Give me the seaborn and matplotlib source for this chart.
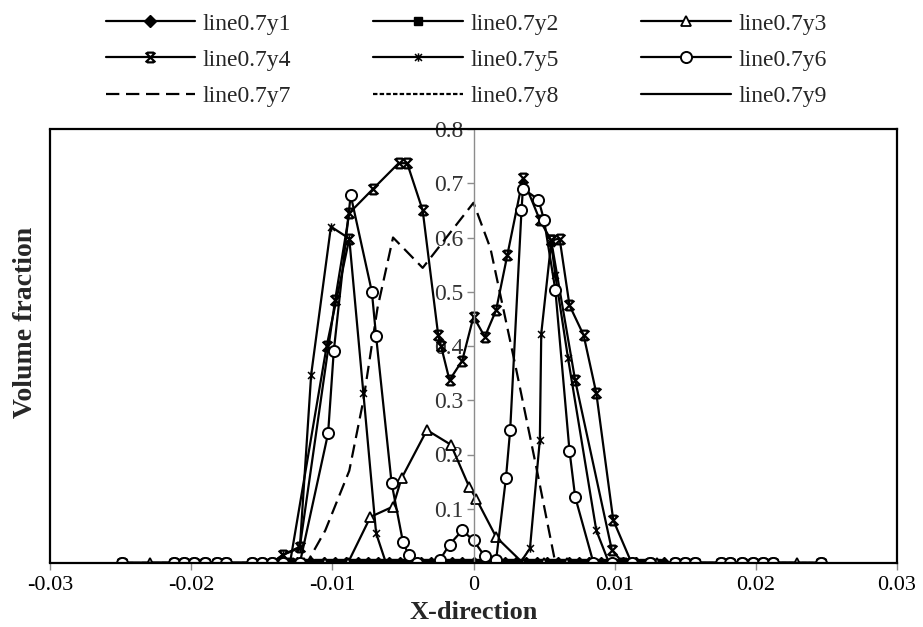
import numpy as np
import pandas as pd
import matplotlib
matplotlib.use("Agg")
import matplotlib.pyplot as plt
from matplotlib.path import Path
from matplotlib.lines import Line2D
import seaborn as sns

# ---- data: volume fraction along the line at 0.7, one list pair per probe ----
far_left_x = [-0.0249, -0.0212, -0.0205, -0.0198, -0.0190, -0.0182, -0.0175, -0.0157, -0.0150, -0.0143]
far_left_y = [0, 0, 0, 0, 0, 0, 0, 0, 0, 0]
far_right_x = [0.0143, 0.0150, 0.0157, 0.0175, 0.0182, 0.0190, 0.0198, 0.0205, 0.0212, 0.0246]
far_right_y = [0, 0, 0, 0, 0, 0, 0, 0, 0, 0]

y1_x = [-0.0135, -0.0125, -0.0115, -0.0106, -0.0098, -0.0090, -0.0082, -0.0075, -0.0068, -0.0060,
        -0.0052, -0.0045, -0.0037, -0.0030, -0.0022, -0.0015, -0.0008, 0.0, 0.0008, 0.0015,
        0.0022, 0.0030, 0.0037, 0.0045, 0.0052, 0.0060, 0.0068, 0.0075, 0.0082, 0.0090,
        0.0098, 0.0106, 0.0115, 0.0125, 0.0135]
y1_v = [0, 0, 0, 0, 0, 0, 0, 0, 0, 0, 0, 0, 0, 0, 0, 0, 0, 0, 0, 0,
        0, 0, 0, 0, 0, 0, 0, 0, 0, 0, 0, 0, 0, 0, 0]

y2_x = [-0.0130, -0.0120, -0.0110, -0.0102, -0.0094, -0.0086, -0.0078, -0.0071, -0.0064, -0.0056,
        -0.0049, -0.0041, -0.0034, -0.0026, -0.0019, -0.0011, -0.0004, 0.0004, 0.0011, 0.0019,
        0.0026, 0.0034, 0.0041, 0.0049, 0.0056, 0.0064, 0.0071, 0.0078, 0.0086, 0.0094,
        0.0102, 0.0110, 0.0120, 0.0130]
y2_v = [0, 0, 0, 0, 0, 0, 0, 0, 0, 0, 0, 0, 0, 0, 0, 0, 0, 0, 0, 0,
        0, 0, 0, 0, 0, 0, 0, 0, 0, 0, 0, 0, 0, 0]

y3_x = [-0.0229, -0.0135, -0.0120, -0.0105, -0.0089, -0.0073, -0.0057, -0.0051, -0.0033, -0.0016,
        -0.0003, 0.0002, 0.0016, 0.0035, 0.0050, 0.0066, 0.0082, 0.0098, 0.0115, 0.0130, 0.0229]
y3_v = [0, 0, 0, 0, 0, 0.085, 0.104, 0.156, 0.245, 0.218,
        0.140, 0.118, 0.048, 0.0, 0, 0, 0, 0, 0, 0, 0]

y4_x = [-0.0135, -0.0123, -0.0098, -0.0088, -0.0071, -0.0053, -0.0047, -0.0036, -0.0025, -0.0023,
        -0.0017, -0.0008, 0.0, 0.0008, 0.0016, 0.0024, 0.0035, 0.0047, 0.0055, 0.0061,
        0.0068, 0.0078, 0.0087, 0.0099, 0.0112, 0.0125]
y4_v = [0.015, 0.03, 0.485, 0.645, 0.69, 0.737, 0.737, 0.65, 0.42, 0.40,
        0.337, 0.373, 0.454, 0.417, 0.466, 0.568, 0.709, 0.632, 0.595, 0.598,
        0.475, 0.42, 0.313, 0.079, 0.0, 0.0]
# flank branches of the same probe
y4b_x = [-0.0130, -0.0104, -0.0088]
y4b_v = [0.0, 0.40, 0.598]
y4c_x = [0.0055, 0.0072, 0.0098, 0.0106]
y4c_v = [0.595, 0.337, 0.024, 0.0]

y5_x = [-0.0135, -0.0123, -0.0115, -0.0101, -0.0088, -0.0078, -0.0069, -0.0062, -0.0050, -0.0038,
        -0.0025, -0.0012, 0.0, 0.0012, 0.0025, 0.0033, 0.0040, 0.0047, 0.0048, 0.0055,
        0.0058, 0.0067, 0.0087, 0.0096, 0.0110, 0.0125]
y5_v = [0.015, 0.028, 0.347, 0.62, 0.598, 0.313, 0.055, 0.0, 0, 0,
        0, 0, 0, 0, 0, 0.0, 0.027, 0.227, 0.423, 0.59,
        0.53, 0.377, 0.06, 0.0, 0, 0]

y6_x = [-0.0135, -0.0123, -0.0103, -0.0099, -0.0087, -0.0072, -0.0069, -0.0058, -0.0050, -0.0046,
        -0.0040, -0.0024, -0.0017, -0.0008, 0.0, 0.0008, 0.0016, 0.0023, 0.0026, 0.0034,
        0.0035, 0.0046, 0.0050, 0.0058, 0.0068, 0.0072, 0.0085, 0.0098, 0.0112, 0.0125]
y6_v = [0, 0, 0.239, 0.39, 0.678, 0.50, 0.418, 0.147, 0.039, 0.015,
        0.0, 0.005, 0.034, 0.06, 0.042, 0.012, 0.005, 0.157, 0.246, 0.65,
        0.69, 0.67, 0.632, 0.503, 0.207, 0.122, 0.0, 0, 0, 0]

y7_x = [-0.0135, -0.0118, -0.0105, -0.0088, -0.0078, -0.0068, -0.0057, -0.0036, 0.0, 0.0012,
        0.0030, 0.0045, 0.0058, 0.0075, 0.0095, 0.0115, 0.0130]
y7_v = [0, 0, 0.06, 0.17, 0.30, 0.47, 0.60, 0.544, 0.664, 0.58,
        0.36, 0.17, 0.0, 0, 0, 0, 0]

y8_x = [-0.0135, 0.0, 0.0135]
y8_v = [0, 0, 0]
y9_x = [-0.0135, 0.0, 0.0135]
y9_v = [0, 0, 0]

x_ticks = [-0.03, -0.02, -0.01, 0.0, 0.01, 0.02, 0.03]
x_tick_labels = ["-0.03", "-0.02", "-0.01", "0", "0.01", "0.02", "0.03"]
y_ticks = [0.1, 0.2, 0.3, 0.4, 0.5, 0.6, 0.7, 0.8]
y_tick_labels = ["0.1", "0.2", "0.3", "0.4", "0.5", "0.6", "0.7", "0.8"]

# ---- marker shapes ----
cross_bar = Path([(-1, -1), (1, 1), (-1, 1), (1, -1), (-0.7, 1), (0.7, 1), (-0.7, -1), (0.7, -1)],
                 [Path.MOVETO, Path.LINETO] * 4)
cross_star = Path([(-1, -1), (1, 1), (-1, 1), (1, -1), (0, -1.2), (0, 1.2)],
                  [Path.MOVETO, Path.LINETO] * 3)

sns.set_style("white")
plt.rcParams["font.family"] = ["Liberation Serif", "DejaVu Serif"]

fig = plt.figure(figsize=(9.23, 6.27), dpi=100)
ax = fig.add_axes([50 / 923, 1 - 563 / 627, 847 / 923, 434 / 627])

LW = 1.6
black = "black"


def draw(xs, ys, label=None, **style):
    full_x = far_left_x + xs + far_right_x
    full_y = far_left_y + ys + far_right_y
    df = pd.DataFrame({"x": full_x, "y": full_y})
    sns.lineplot(data=df, x="x", y="y", sort=False, estimator=None, ax=ax,
                 color=black, lw=LW, label=label, legend=False, **style)


def draw_branch(xs, ys, **style):
    df = pd.DataFrame({"x": xs, "y": ys})
    sns.lineplot(data=df, x="x", y="y", sort=False, estimator=None, ax=ax,
                 color=black, lw=LW, legend=False, **style)


st = {
    "line0.7y1": dict(marker="D", ms=6, mfc=black, mec=black, mew=1.0),
    "line0.7y2": dict(marker="s", ms=6, mfc=black, mec=black, mew=1.0),
    "line0.7y3": dict(marker="^", ms=7, mfc="white", mec=black, mew=1.3),
    "line0.7y4": dict(marker=cross_bar, ms=7, mfc="none", mec=black, mew=1.6),
    "line0.7y5": dict(marker=cross_star, ms=6, mfc="none", mec=black, mew=1.1),
    "line0.7y6": dict(marker="o", ms=8, mfc="white", mec=black, mew=1.4),
    "line0.7y7": dict(linestyle=(0, (6, 3))),
    "line0.7y8": dict(linestyle=(0, (2, 1))),
    "line0.7y9": dict(),
}

draw(y9_x, y9_v, "line0.7y9", **st["line0.7y9"])
draw(y8_x, y8_v, "line0.7y8", **st["line0.7y8"])
draw(y1_x, y1_v, "line0.7y1", **st["line0.7y1"])
draw(y2_x, y2_v, "line0.7y2", **st["line0.7y2"])
draw(y3_x, y3_v, "line0.7y3", **st["line0.7y3"])
draw(y7_x, y7_v, "line0.7y7", **st["line0.7y7"])
draw(y5_x, y5_v, "line0.7y5", **st["line0.7y5"])
draw(y4_x, y4_v, "line0.7y4", **st["line0.7y4"])
draw_branch(y4b_x, y4b_v, **st["line0.7y4"])
draw_branch(y4c_x, y4c_v, **st["line0.7y4"])
draw(y6_x, y6_v, "line0.7y6", **st["line0.7y6"])

# ---- axes ----
ax.set_xlim(-0.03, 0.03)
ax.set_ylim(0, 0.8)
ax.set_xticks(x_ticks)
ax.set_xticklabels(x_tick_labels)
ax.set_yticks(y_ticks)
ax.set_yticklabels(y_tick_labels)

grey = "#8c8c8c"
ax.spines["left"].set_position(("data", 0))
ax.spines["left"].set_color(grey)
ax.spines["left"].set_linewidth(1.0)
for side in ["top", "right", "bottom"]:
    ax.spines[side].set_color(black)
    ax.spines[side].set_linewidth(1.6)
    ax.spines[side].set_visible(True)
ax.add_line(Line2D([0, 0], [0, 1], transform=ax.transAxes, color=black, lw=1.6,
                   clip_on=False, zorder=3))

ax.tick_params(axis="x", direction="out", length=5, width=1, color=grey,
               labelsize=16, pad=4, bottom=True)
ax.tick_params(axis="y", direction="out", length=5, width=1, color=grey,
               labelsize=17, pad=2, left=True)
for lab in ax.get_yticklabels():
    lab.set_color("#333333")
for lab in ax.get_xticklabels():
    lab.set_color(black)

ax.set_xlabel("X-direction", fontsize=19, fontweight="bold", labelpad=5)
ax.set_ylabel("")
fig.text(26 / 923, 1 - 322 / 627, "Volume fraction", rotation=90, fontsize=20,
         fontweight="bold", ha="center", va="center")

# ---- legend (three rows across the top) ----
handles, labels = ax.get_legend_handles_labels()
hmap = dict(zip(labels, handles))
order = ["line0.7y1", "line0.7y4", "line0.7y7",
         "line0.7y2", "line0.7y5", "line0.7y8",
         "line0.7y3", "line0.7y6", "line0.7y9"]
fig.legend([hmap[k] for k in order], order, ncol=3, loc="upper center",
           bbox_to_anchor=(466 / 923, 1.0), frameon=False, fontsize=17,
           handlelength=3.8, handletextpad=0.3, columnspacing=3.5,
           labelspacing=0.62, numpoints=1, borderaxespad=0.15)

fig.savefig("out.png", dpi=100)
